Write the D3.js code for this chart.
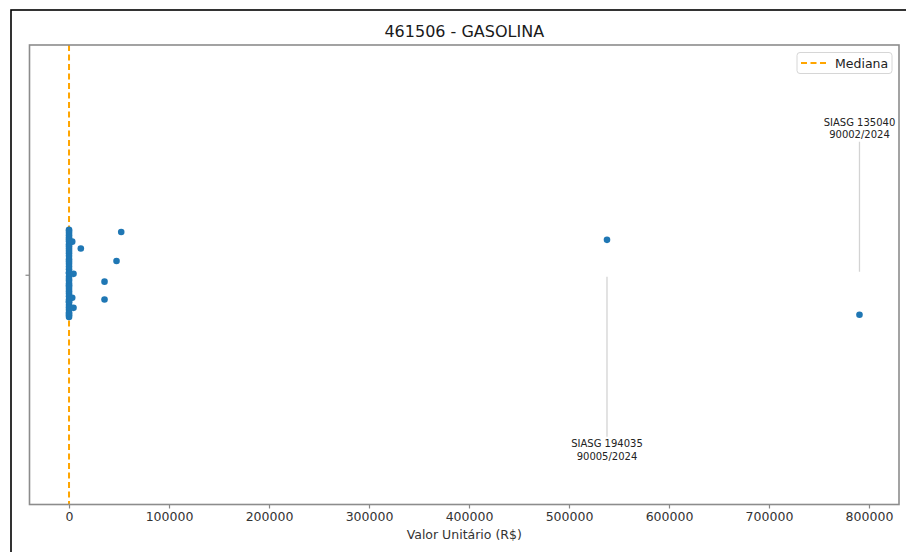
<!DOCTYPE html>
<html>
<head>
<meta charset="utf-8">
<script src="https://cdn.jsdelivr.net/npm/d3@7"></script>
<style>
  html, body { margin: 0; padding: 0; background: #fff; }
  svg { display: block; font-family: "DejaVu Sans", sans-serif; }
</style>
</head>
<body>
<svg id="chart" width="906" height="552"></svg>
<script>
// ---- data ----
const title = "461506 - GASOLINA";
const xLabel = "Valor Unitário (R$)";
const legendLabel = "Mediana";
const xTickValues = [0, 100000, 200000, 300000, 400000, 500000, 600000, 700000, 800000];

// unit values (R$) of all purchases
const values = [
  5.79, 6.19, 5.49, 6.39, 5.89, 6.05, 5.99, 6.29, 5.69, 6.49,
  5.59, 6.15, 5.95, 6.09, 5.85, 6.35, 5.75, 6.25, 5.65, 6.45,
  6.02, 5.92, 6.12, 5.82, 6.22, 5.72, 6.32, 5.62, 6.42, 5.52,
  6.00, 5.97, 6.07, 5.87, 6.17, 5.77, 6.27, 5.67, 6.37, 5.57,
  3200, 4500, 3200, 4500, 11800, 52200, 47500, 35500, 35500, 538000, 790500
];
// strip-plot jitter of each point (category units)
const jitter = [
  -0.098, 0.041, -0.057, 0.088, -0.012, 0.023, -0.081, 0.066, -0.034, 0.004,
  0.092, -0.066, 0.031, -0.091, 0.054, -0.024, 0.076, -0.047, 0.013, -0.073,
  0.082, -0.005, 0.060, -0.041, 0.036, -0.086, 0.019, -0.052, 0.071, -0.018,
  0.047, -0.095, 0.009, -0.062, 0.085, -0.029, 0.026, -0.077, 0.058, -0.003,
  -0.072, -0.002, 0.050, 0.072, -0.057, -0.093, -0.030, 0.015, 0.054, -0.076, 0.087
];
// annotated outliers
const annotValues = [538000, 790500];
const annotLine1 = ["SIASG 194035", "SIASG 135040"];
const annotLine2 = ["90005/2024", "90002/2024"];
const annotSide = ["below", "above"];

// ---- layout ----
const svg = d3.select("#chart");
const L = 29.5, R = 899, T = 45, B = 504.5;

const ext = d3.extent(values);
const pad = 0.05 * (ext[1] - ext[0]);
const x = d3.scaleLinear().domain([ext[0] - pad, ext[1] + pad]).range([L, R]);
const y = d3.scaleLinear().domain([-0.5, 0.5]).range([T, B]);

// outer frame (black border of the screenshot)
svg.append("rect").attr("x", 11).attr("y", 10).attr("width", 940).attr("height", 600)
  .attr("fill", "none").attr("stroke", "#000").attr("stroke-width", 1.6);

// title
svg.append("text").attr("x", (L + R) / 2).attr("y", 37).attr("text-anchor", "middle")
  .attr("font-size", 16).attr("fill", "#1a1a1a").text(title);

// x axis
const xAxis = d3.axisBottom(x).tickValues(xTickValues).tickFormat(d3.format("d"))
  .tickSizeOuter(0).tickSize(4).tickPadding(4);
const gx = svg.append("g").attr("transform", `translate(0,${B})`).call(xAxis);
gx.select(".domain").remove();
gx.selectAll(".tick line").attr("stroke", "#888").attr("stroke-width", 1.2);
gx.selectAll(".tick text").attr("font-size", 12.5).attr("fill", "#333")
  .attr("font-family", "DejaVu Sans, sans-serif");

// y axis (single category tick, no label)
const yAxis = d3.axisLeft(y).tickValues([0]).tickFormat("").tickSize(4).tickSizeOuter(0);
const gy = svg.append("g").attr("transform", `translate(${L},0)`).call(yAxis);
gy.select(".domain").remove();
gy.selectAll(".tick line").attr("stroke", "#888").attr("stroke-width", 1.2);

svg.append("text").attr("x", (L + R) / 2).attr("y", 539).attr("text-anchor", "middle")
  .attr("font-size", 12.5).attr("fill", "#333").text(xLabel);

// median line (behind the points)
const med = d3.median(values);
svg.append("line").attr("x1", x(med)).attr("x2", x(med)).attr("y1", T).attr("y2", B)
  .attr("stroke", "#FFA500").attr("stroke-width", 2).attr("stroke-dasharray", "6,3.5");

// annotation lines + text
annotValues.forEach((v, i) => {
  const cx = x(v);
  const g = svg.append("g");
  if (annotSide[i] === "below") {
    g.append("line").attr("x1", cx).attr("x2", cx).attr("y1", y(0) + 2).attr("y2", y(0) + 162)
      .attr("stroke", "#d3d3d3").attr("stroke-width", 1.3);
    g.append("text").attr("x", cx).attr("y", y(0) + 172).attr("text-anchor", "middle")
      .attr("font-size", 10).attr("fill", "#222").text(annotLine1[i]);
    g.append("text").attr("x", cx).attr("y", y(0) + 185).attr("text-anchor", "middle")
      .attr("font-size", 10).attr("fill", "#222").text(annotLine2[i]);
  } else {
    g.append("line").attr("x1", cx).attr("x2", cx).attr("y1", y(0) - 3).attr("y2", y(0) - 133)
      .attr("stroke", "#d3d3d3").attr("stroke-width", 1.3);
    g.append("text").attr("x", cx).attr("y", y(0) - 149).attr("text-anchor", "middle")
      .attr("font-size", 10).attr("fill", "#222").text(annotLine1[i]);
    g.append("text").attr("x", cx).attr("y", y(0) - 137).attr("text-anchor", "middle")
      .attr("font-size", 10).attr("fill", "#222").text(annotLine2[i]);
  }
});

// points
const pts = values.map((v, i) => ({ v, j: jitter[i] }));
svg.append("g").selectAll("circle").data(pts).join("circle")
  .attr("cx", d => x(d.v)).attr("cy", d => y(d.j)).attr("r", 3.3)
  .attr("fill", "#1f77b4");

// spines
svg.append("rect").attr("x", L).attr("y", T).attr("width", R - L).attr("height", B - T)
  .attr("fill", "none").attr("stroke", "#8c8c8c").attr("stroke-width", 1.6);

// legend
const lg = svg.append("g");
lg.append("rect").attr("x", 797).attr("y", 52.5).attr("width", 95).attr("height", 21).attr("rx", 3)
  .attr("fill", "#fff").attr("fill-opacity", 0.85).attr("stroke", "#d6d6d6").attr("stroke-width", 1);
lg.append("line").attr("x1", 801).attr("x2", 826).attr("y1", 63).attr("y2", 63)
  .attr("stroke", "#FFA500").attr("stroke-width", 2).attr("stroke-dasharray", "6,3.5");
lg.append("text").attr("x", 835).attr("y", 67.5).attr("font-size", 12.5).attr("fill", "#222").text(legendLabel);
</script>
</body>
</html>
